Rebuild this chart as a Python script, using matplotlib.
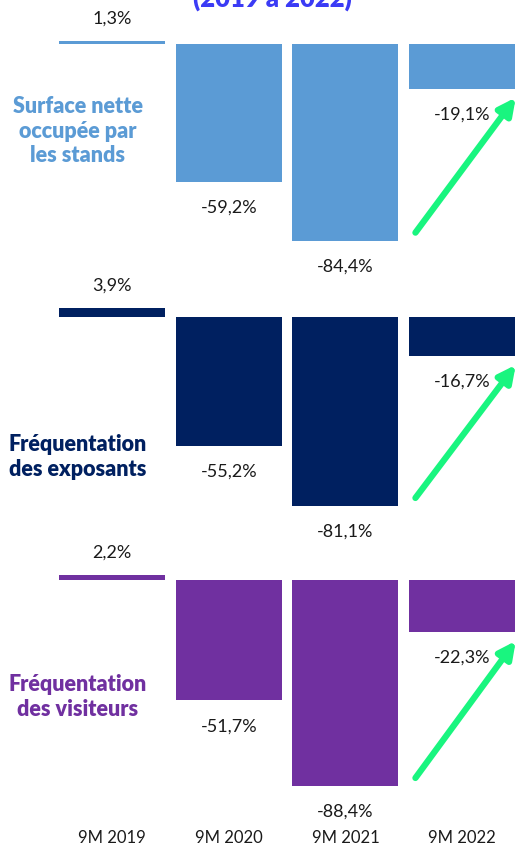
import numpy as np
import matplotlib
matplotlib.use('Agg')
import matplotlib.pyplot as plt

# data
periods = ['9M 2019', '9M 2020', '9M 2021', '9M 2022']
surface = [1.3, -59.2, -84.4, -19.1]
exposants = [3.9, -55.2, -81.1, -16.7]
visiteurs = [2.2, -51.7, -88.4, -22.3]
panel_titles = ['Surface nette\noccupée par\nles stands',
                'Fréquentation\ndes exposants',
                'Fréquentation\ndes visiteurs']
panel_colors = ['#5B9BD5', '#002060', '#7030A0']

W, H = 516, 849
PX_PER_PCT = 2.33
zeros_px = [44, 317, 580]          # pixel row of the zero line in each panel
title_y_px = [131, 457, 697]        # pixel row of the centre of the side label
x0_px, step_px = 112, 116.7         # centre of first bar, spacing

fig = plt.figure(figsize=(W / 100, H / 100), dpi=100, facecolor='white')

num_font = ['Lato', 'DejaVu Sans']
lab_font = ['Lato', 'DejaVu Sans']

xlim = (-x0_px / step_px, (W - x0_px) / step_px)
above, below = 60, 240
x = np.arange(len(periods))

for i, (vals, col) in enumerate(zip([surface, exposants, visiteurs], panel_colors)):
    z = zeros_px[i]
    ax = fig.add_axes([0, 1 - (z + below) / H, 1, (above + below) / H])
    ax.set_xlim(*xlim)
    ax.set_ylim(-below / PX_PER_PCT, above / PX_PER_PCT)
    ax.axis('off')
    ax.bar(x, vals, width=0.91, color=col, edgecolor='none', zorder=2)
    for xi, v in zip(x, vals):
        lab = f'{v:.1f}%'.replace('.', ',')
        off = 22 if v > 0 else -26
        ax.annotate(lab, (xi, v), xytext=(0, off), textcoords='offset pixels',
                    ha='center', va='center', fontsize=13, color='#1a1a1a',
                    family=num_font, annotation_clip=False)
    # green recovery arrow
    y_start = vals[2] + 8 / PX_PER_PCT
    y_end = vals[3] - 9 / PX_PER_PCT
    ax.annotate('', xy=(3.46, y_end), xytext=(2.6, y_start),
                arrowprops=dict(arrowstyle='-|>,head_length=1.0,head_width=0.5',
                                color='#19F57F', lw=4.5, shrinkA=0, shrinkB=0),
                annotation_clip=False, zorder=5)
    fig.text(78 / W, 1 - title_y_px[i] / H, panel_titles[i], ha='center', va='center',
             fontsize=15.5, fontweight='heavy', color=col, family=lab_font,
             linespacing=1.2)

# period labels
for xi, p in zip(x, periods):
    fig.text((x0_px + xi * step_px) / W, 1 - 838 / H, p, ha='center', va='center',
             fontsize=12, color='#1a1a1a', family=num_font)

# title, cut at the top edge as in the source
fig.text(272 / W, 1 - (-2) / H, '(2019 à 2022)', ha='center', va='center',
         fontsize=18.5, fontweight='heavy', color='#3B3BF5', family=lab_font)

fig.savefig('out.png', dpi=100)
